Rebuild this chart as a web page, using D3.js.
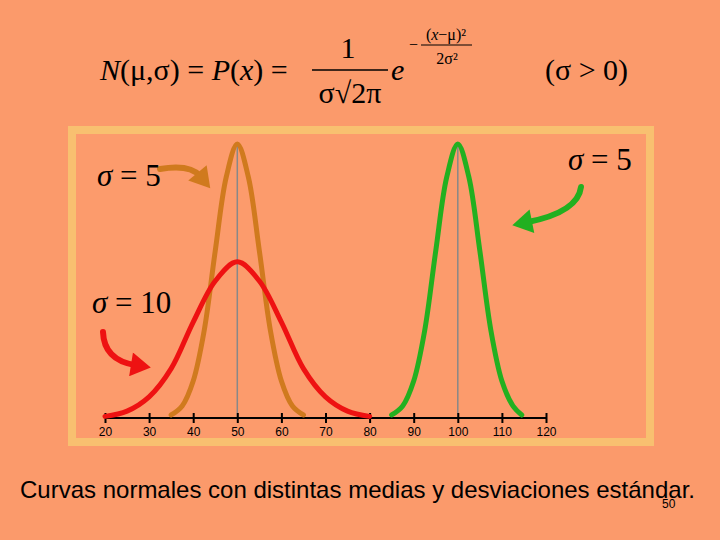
<!DOCTYPE html>
<meta charset="utf-8">
<style>
body { margin: 0; background: #fb9a6b; }
svg { display: block; }
.serif { font-family: 'Liberation Serif', 'DejaVu Serif', serif; fill: #000; }
.tick text { font-family: 'Liberation Sans', Arial, sans-serif; font-size: 12px; }
.caption { font-family: 'Liberation Sans', Arial, sans-serif; font-size: 24px; }
</style>
<body>
<script src="https://cdn.jsdelivr.net/npm/d3@7"></script>
<script>
// heights (1 = top of the narrow curves)
var narrowX = [35, 37.5, 40, 42.5, 45, 47.5, 50, 52.5, 55, 57.5, 60, 62.5, 65];
var narrowY = [0.011, 0.044, 0.135, 0.32, 0.61, 0.88, 1, 0.88, 0.61, 0.32, 0.135, 0.044, 0.011];
var greenX  = [85, 87.5, 90, 92.5, 95, 97.5, 100, 102.5, 105, 107.5, 110, 112.5, 114.5];
var wideX   = [20, 25, 30, 35, 40, 45, 50, 55, 60, 65, 70, 75, 80];
var wideY   = [0.006, 0.025, 0.077, 0.18, 0.35, 0.50, 0.57, 0.50, 0.35, 0.18, 0.077, 0.025, 0.006];
var ticks   = [20, 30, 40, 50, 60, 70, 80, 90, 100, 110, 120];
var means   = [50, 100];

var svg = d3.select('body').append('svg').attr('width', 720).attr('height', 540);

var x = d3.scaleLinear().domain([20, 120]).range([105, 546]);
var y = d3.scaleLinear().domain([0, 1]).range([418, 144]);

// frame
svg.append('rect').attr('x', 72).attr('y', 130).attr('width', 578).attr('height', 312)
   .attr('fill', '#fc9b6c').attr('stroke', '#f8c070').attr('stroke-width', 8);

// mean lines
svg.selectAll('.mean').data(means).enter().append('line')
   .attr('x1', d => x(d)).attr('x2', d => x(d)).attr('y1', y(0)).attr('y2', y(1))
   .attr('stroke', '#888').attr('stroke-width', 1.5);

// axis
svg.append('line').attr('x1', x(20)).attr('x2', x(120)).attr('y1', y(0)).attr('y2', y(0))
   .attr('stroke', '#000').attr('stroke-width', 2);
var ax = svg.append('g').attr('transform', 'translate(0,' + (y(0) - 5) + ')')
   .call(d3.axisBottom(x).tickValues(ticks).tickSize(10).tickPadding(4));
ax.select('.domain').remove();
ax.selectAll('.tick line').attr('stroke-width', 2);

var line = d3.line().x(d => x(d[0])).y(d => y(d[1])).curve(d3.curveCatmullRom);
function curve(xs, ys, color) {
  svg.append('path').datum(d3.zip(xs, ys)).attr('d', line)
     .attr('fill', 'none').attr('stroke', color).attr('stroke-width', 5).attr('stroke-linecap', 'round');
}
curve(narrowX, narrowY, '#d07a1e');
curve(greenX, narrowY, '#22b020');
curve(wideX, wideY, '#ee1212');

// arrows
var defs = svg.append('defs');
function arrow(id, color, d) {
  defs.append('marker').attr('id', id).attr('viewBox', '0 -6 10 12').attr('refX', 2)
     .attr('markerWidth', 4).attr('markerHeight', 4).attr('orient', 'auto')
     .append('path').attr('d', 'M0,-6L10,0L0,6Z').attr('fill', color);
  svg.append('path').attr('d', d).attr('fill', 'none').attr('stroke', color)
     .attr('stroke-width', 6).attr('stroke-linecap', 'round').attr('marker-end', 'url(#' + id + ')');
}
arrow('ao', '#d07a1e', 'M160,169 Q190,164 200,176');
arrow('ag', '#22b020', 'M581,187 Q578,212 528,222');
arrow('ar', '#ee1212', 'M103,332 Q104,360 135,365');

// sigma labels
function sig(tx, ty, v) {
  var t = svg.append('text').attr('class', 'serif').attr('x', tx).attr('y', ty).attr('font-size', 31);
  t.append('tspan').attr('font-style', 'italic').text('σ');
  t.append('tspan').text(' = ' + v);
}
sig(97, 186, 5);
sig(568, 170, 5);
sig(92, 313, 10);

// formula
var f = svg.append('g').attr('class', 'serif');
f.append('text').attr('x', 100).attr('y', 80).attr('font-size', 30)
 .html('<tspan font-style="italic">N</tspan>(μ,σ) = <tspan font-style="italic">P</tspan>(<tspan font-style="italic">x</tspan>) =');
f.append('text').attr('x', 348).attr('y', 58).attr('font-size', 30).attr('text-anchor', 'middle').text('1');
f.append('line').attr('x1', 312).attr('x2', 388).attr('y1', 70).attr('y2', 70).attr('stroke', '#000').attr('stroke-width', 1.5);
f.append('text').attr('x', 350).attr('y', 103).attr('font-size', 30).attr('text-anchor', 'middle').text('σ√2π');
f.append('text').attr('x', 391).attr('y', 80).attr('font-size', 30).attr('font-style', 'italic').text('e');
f.append('text').attr('x', 409).attr('y', 50).attr('font-size', 16).text('−');
f.append('text').attr('x', 446).attr('y', 40).attr('font-size', 16).attr('text-anchor', 'middle')
 .html('(<tspan font-style="italic">x</tspan>−μ)²');
f.append('line').attr('x1', 421).attr('x2', 472).attr('y1', 45).attr('y2', 45).attr('stroke', '#000').attr('stroke-width', 1);
f.append('text').attr('x', 447).attr('y', 64).attr('font-size', 16).attr('text-anchor', 'middle').text('2σ²');
f.append('text').attr('x', 545).attr('y', 80).attr('font-size', 30).text('(σ > 0)');

svg.append('text').attr('class', 'caption').attr('x', 20).attr('y', 498)
   .text('Curvas normales con distintas medias y desviaciones estándar.');
svg.append('text').attr('x', 662).attr('y', 508).attr('font-size', 12)
   .attr('font-family', 'Liberation Sans, Arial, sans-serif').text('50');
</script>
</body>
